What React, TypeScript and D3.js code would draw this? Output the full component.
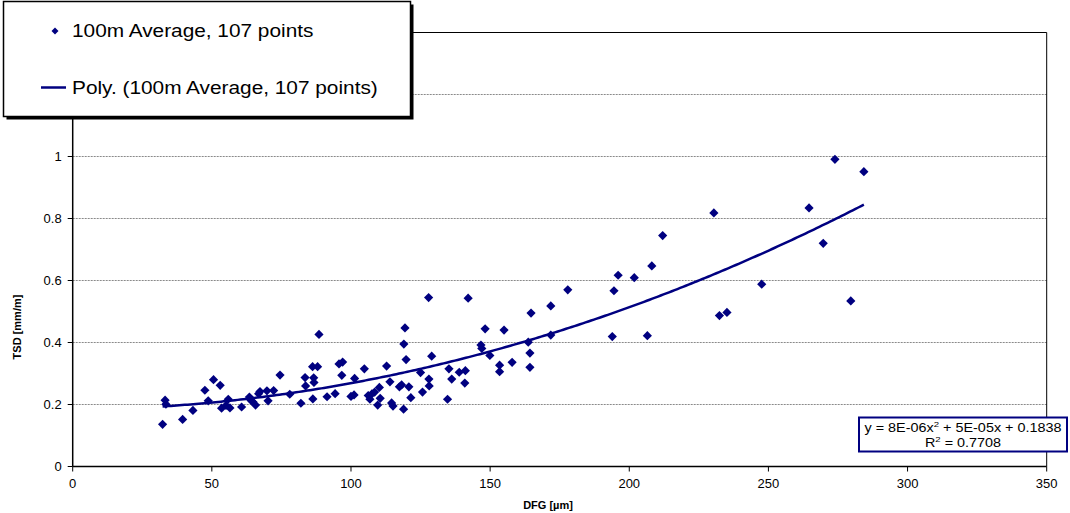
import React from "react";
import * as d3 from "d3";

// DFG [µm]
const dfg: number[] = [
  32.3, 33.2, 33.5, 39.5, 43.2, 47.5, 48.7, 50.6, 53.0, 53.5, 55.1, 55.9, 56.5, 60.7, 63.5, 64.1,
  64.8, 65.7, 66.8, 67.3, 69.8, 70.2, 72.2, 74.5, 78.0, 82.0, 83.5, 83.7, 86.2, 88.0, 86.6, 86.7,
  86.3, 88.5, 91.4, 94.3, 95.7, 97.0, 96.7, 100.0, 101.1, 101.3, 104.8, 106.2, 106.8, 107.5, 108.5,
  109.6, 110.2, 110.5, 112.8, 114.0, 114.6, 115.1, 117.4, 118.2, 118.9, 119.0, 119.4, 119.8, 120.8,
  121.5, 125.0, 125.7, 127.9, 128.0, 128.1, 129.0, 134.7, 135.2, 136.2, 138.9, 141.1, 140.9, 142.1,
  146.7, 147.0, 148.2, 149.9, 153.4, 153.4, 155.0, 157.9, 163.7, 164.3, 164.3, 164.7, 171.8, 171.8,
  177.9, 193.9, 194.5, 196.0, 201.8, 206.5, 208.1, 212.0, 230.4, 232.4, 235.1, 247.6, 264.6, 269.7,
  273.9, 279.6, 284.3,
];
// TSD [mm/m]
const tsd: number[] = [
  0.136, 0.214, 0.201, 0.152, 0.181, 0.246, 0.212, 0.28, 0.262, 0.188, 0.197, 0.217, 0.189, 0.192,
  0.224, 0.213, 0.208, 0.198, 0.235, 0.242, 0.244, 0.212, 0.245, 0.295, 0.233, 0.204, 0.287, 0.26,
  0.322, 0.322, 0.286, 0.271, 0.218, 0.426, 0.225, 0.235, 0.331, 0.337, 0.294, 0.226, 0.231, 0.284,
  0.315, 0.229, 0.217, 0.234, 0.24, 0.198, 0.255, 0.22, 0.324, 0.273, 0.205, 0.195, 0.257, 0.263,
  0.185, 0.395, 0.447, 0.345, 0.257, 0.222, 0.303, 0.24, 0.545, 0.282, 0.26, 0.356, 0.217, 0.315,
  0.282, 0.304, 0.309, 0.269, 0.543, 0.392, 0.381, 0.444, 0.358, 0.327, 0.306, 0.44, 0.336, 0.401,
  0.366, 0.32, 0.495, 0.518, 0.424, 0.57, 0.419, 0.567, 0.617, 0.609, 0.422, 0.647, 0.745, 0.818,
  0.487, 0.497, 0.588, 0.834, 0.72, 0.991, 0.534, 0.951,
];

// Trend line coefficients from the chart's equation label (a x^2 + b x + c)
const trendCoeffs: number[] = [8e-6, 5e-5, 0.1838];
const xTicks: number[] = [0, 50, 100, 150, 200, 250, 300, 350];
const yTicks: number[] = [0, 0.2, 0.4, 0.6, 0.8, 1, 1.2, 1.4];
const legendLabels: string[] = ["100m Average, 107 points", "Poly. (100m Average, 107 points)"];

const NAVY = "#000080";
const FONT = "'Liberation Sans', Arial, sans-serif";

export default function App() {
  const W = 1070;
  const H = 513;
  const x = d3.scaleLinear().domain([0, 350]).range([72.7, 1046.7]);
  const y = d3.scaleLinear().domain([0, 1.4]).range([466.5, 32.5]);

  const xMin = d3.min(dfg) as number;
  const xMax = d3.max(dfg) as number;
  const trendX = d3.range(xMin, xMax, 1).concat([xMax]);
  const trendPts: [number, number][] = trendX.map((v) => [
    v,
    trendCoeffs[0] * v * v + trendCoeffs[1] * v + trendCoeffs[2],
  ]);
  const line = d3
    .line<[number, number]>()
    .x((d) => x(d[0]))
    .y((d) => y(d[1]));

  const diamond = (cx: number, cy: number, r: number) =>
    `M${cx},${cy - r}L${cx + r},${cy}L${cx},${cy + r}L${cx - r},${cy}Z`;

  const [x0, x1] = x.range();
  const [y0, y1] = y.range();

  return (
    <svg
      width={W}
      height={H}
      style={{ position: "absolute", left: 0, top: 0, background: "#fff" }}
      fontFamily={FONT}
    >
      <rect x={0} y={0} width={W} height={H} fill="#fff" />
      {/* gridlines */}
      {yTicks
        .filter((t) => t > 0 && t < 1.4)
        .map((t) => (
          <line
            key={"g" + t}
            x1={x0}
            x2={x1}
            y1={y(t)}
            y2={y(t)}
            stroke="#8a8a8a"
            strokeWidth={1}
            strokeDasharray="2 1"
          />
        ))}
      {/* plot frame */}
      <line x1={x0} x2={x1} y1={y1} y2={y1} stroke="#000" strokeWidth={1} />
      <line x1={x1} x2={x1} y1={y1} y2={y0} stroke="#000" strokeWidth={1} />
      {/* axes */}
      <line x1={x0} x2={x0} y1={y1} y2={y0} stroke="#000" strokeWidth={1.5} />
      <line x1={x0} x2={x1} y1={y0} y2={y0} stroke="#000" strokeWidth={1.5} />
      {yTicks.map((t) => (
        <g key={"yt" + t}>
          <line x1={x0 - 5} x2={x0} y1={y(t)} y2={y(t)} stroke="#000" strokeWidth={1} />
          <text
            x={x0 - 11}
            y={y(t)}
            dy="0.35em"
            textAnchor="end"
            fontSize={13}
            fill="#000"
          >
            {d3.format("~g")(t)}
          </text>
        </g>
      ))}
      {xTicks.map((t) => (
        <g key={"xt" + t}>
          <line x1={x(t)} x2={x(t)} y1={y0} y2={y0 + 5} stroke="#000" strokeWidth={1} />
          <text x={x(t)} y={y0 + 21} textAnchor="middle" fontSize={13} fill="#000">
            {t}
          </text>
        </g>
      ))}
      {/* axis titles */}
      <text x={548} y={509} textAnchor="middle" fontSize={11} fontWeight="bold">
        DFG [µm]
      </text>
      <text
        transform={`translate(21,327) rotate(-90)`}
        textAnchor="middle"
        fontSize={11}
        fontWeight="bold"
      >
        TSD [mm/m]
      </text>
      {/* points */}
      {dfg.map((v, i) => (
        <path key={"p" + i} d={diamond(x(v), y(tsd[i]), 4.6)} fill={NAVY} />
      ))}
      {/* trend line */}
      <path d={line(trendPts) || ""} fill="none" stroke={NAVY} strokeWidth={2.5} />

      {/* equation box */}
      <rect x={859} y={417.5} width={208} height={34} fill="#fff" stroke={NAVY} strokeWidth={2} />
      <g transform="translate(963,432) scale(1.2,1)">
        <text x={0} y={0} textAnchor="middle" fontSize={12} fill="#000">
          y = 8E-06x<tspan dy={-5} fontSize={8}>2</tspan>
          <tspan dy={5}> + 5E-05x + 0.1838</tspan>
        </text>
      </g>
      <g transform="translate(963,447) scale(1.2,1)">
        <text x={0} y={0} textAnchor="middle" fontSize={12} fill="#000">
          R<tspan dy={-5} fontSize={8}>2</tspan>
          <tspan dy={5}> = 0.7708</tspan>
        </text>
      </g>

      {/* legend */}
      <rect x={6.5} y={4.5} width={407} height={115} fill="#000" />
      <rect x={3.5} y={1.5} width={407} height={115} fill="#fff" stroke="#000" strokeWidth={1.5} />
      <path d={diamond(55, 31, 3.5)} fill={NAVY} />
      <g transform="translate(72,37) scale(1.19,1)">
        <text x={0} y={0} fontSize={17.5} fill="#000">
          {legendLabels[0]}
        </text>
      </g>
      <line x1={41} x2={66} y1={87.5} y2={87.5} stroke={NAVY} strokeWidth={2.5} />
      <g transform="translate(72,94) scale(1.19,1)">
        <text x={0} y={0} fontSize={17.5} fill="#000">
          {legendLabels[1]}
        </text>
      </g>
    </svg>
  );
}
